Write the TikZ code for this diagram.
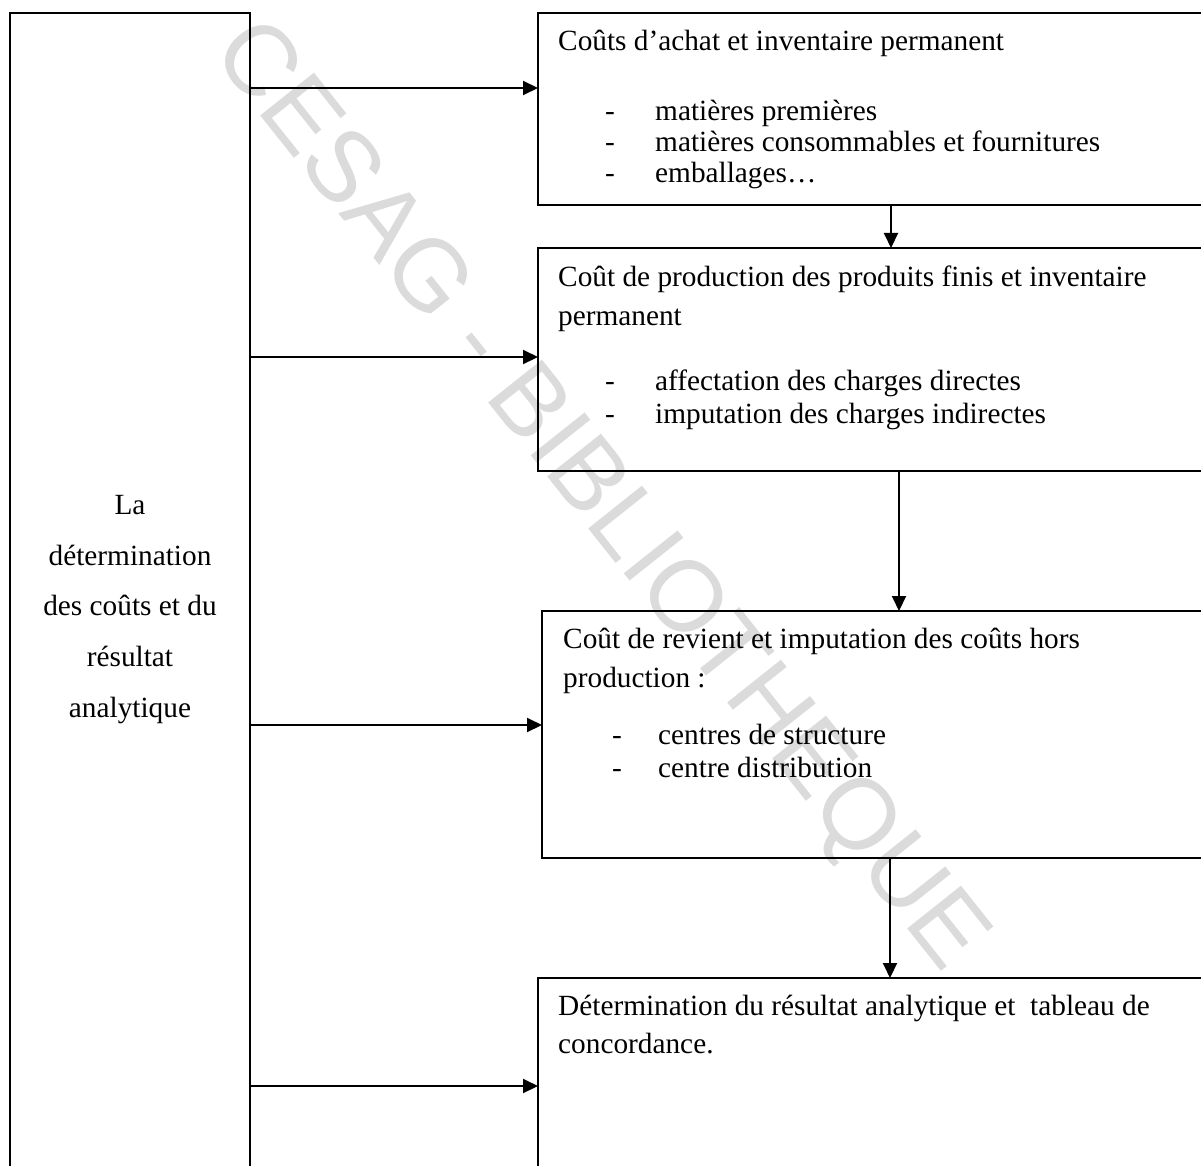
\documentclass[tikz,border=0pt]{standalone}
\usepackage{fontspec}
\setmainfont{Liberation Serif}
\newfontfamily\wmfont{Liberation Sans}
\usetikzlibrary{arrows.meta}

\tikzset{
  box/.style={draw=black, line width=2pt, rectangle, inner sep=0pt, outer sep=0pt, anchor=north west},
  txt/.style={anchor=base west, inner sep=0pt, font=\fontsize{29.3}{33}\selectfont},
  ctxt/.style={anchor=base, inner sep=0pt, font=\fontsize{29.3}{33}\selectfont},
  arr/.style={line width=2pt, -{Triangle[length=15pt,width=14pt]}},
  wmark/.style={text=black!14, font=\wmfont\fontsize{100}{100}\selectfont, inner sep=0pt}
}

\begin{document}
\begin{tikzpicture}[x=1pt, y=-1pt]
\useasboundingbox (0,0) rectangle (1201,1166);
\clip (0,0) rectangle (1201,1166);
\fill[white] (0,0) rectangle (1201,1166);

% background watermark
\node[wmark, rotate=-51.5] (wm) at (597,498) {CESAG - BIBLIOTHEQUE};

% boxes
\node[box, minimum width=240pt, minimum height=1200pt] (left) at (10,13) {};
\node[box, minimum width=680pt, minimum height=192pt] (b1) at (538,13) {};
\node[box, minimum width=680pt, minimum height=223pt] (b2) at (538,248) {};
\node[box, minimum width=676pt, minimum height=247pt] (b3) at (542,611) {};
\node[box, minimum width=680pt, minimum height=300pt] (b4) at (538,978) {};

% left box text
\node[ctxt] (l1) at (130,514) {La};
\node[ctxt] (l2) at (130,565) {détermination};
\node[ctxt] (l3) at (130,615.5) {des coûts et du};
\node[ctxt] (l4) at (130,666) {résultat};
\node[ctxt] (l5) at (130,717) {analytique};

% box 1 text
\node[txt] (t1) at (558,51) {Coûts d’achat et inventaire permanent};
\node[txt] (d11) at (605,121) {-};
\node[txt] (i11) at (655,121) {matières premières};
\node[txt] (d12) at (605,152) {-};
\node[txt] (i12) at (655,152) {matières consommables et fournitures};
\node[txt] (d13) at (605,183) {-};
\node[txt] (i13) at (655,183) {emballages…};

% box 2 text
\node[txt] (t2a) at (558,286) {Coût de production des produits finis et inventaire};
\node[txt] (t2b) at (558,325) {permanent};
\node[txt] (d21) at (605,390) {-};
\node[txt] (i21) at (655,390) {affectation des charges directes};
\node[txt] (d22) at (605,423) {-};
\node[txt] (i22) at (655,423) {imputation des charges indirectes};

% box 3 text
\node[txt] (t3a) at (563,648) {Coût de revient et imputation des coûts hors};
\node[txt] (t3b) at (563,687) {production :};
\node[txt] (d31) at (612,744) {-};
\node[txt] (i31) at (658,744) {centres de structure};
\node[txt] (d32) at (612,777) {-};
\node[txt] (i32) at (658,777) {centre distribution};

% box 4 text
\node[txt] (t4a) at (558,1015) {Détermination du résultat analytique et~~tableau de};
\node[txt] (t4b) at (558,1053) {concordance.};

% connector rows and columns
\coordinate (r1) at (0,88);
\coordinate (r2) at (0,357);
\coordinate (r3) at (0,725);
\coordinate (r4) at (0,1086);
\coordinate (c1) at (891,0);
\coordinate (c2) at (899,0);
\coordinate (c3) at (890,0);

% arrows from the left box
\draw[arr] (left.east |- r1) -- (b1.west |- r1);
\draw[arr] (left.east |- r2) -- (b2.west |- r2);
\draw[arr] (left.east |- r3) -- (b3.west |- r3);
\draw[arr] (left.east |- r4) -- (b4.west |- r4);

% arrows between stages
\draw[arr] (b1.south -| c1) -- (b2.north -| c1);
\draw[arr] (b2.south -| c2) -- (b3.north -| c2);
\draw[arr] (b3.south -| c3) -- (b4.north -| c3);
\end{tikzpicture}
\end{document}
